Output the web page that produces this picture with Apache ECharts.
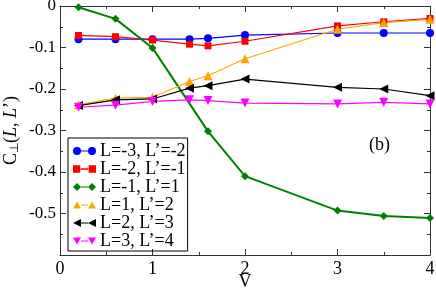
<!DOCTYPE html>
<html>
<head>
<meta charset="utf-8">
<script src="https://cdn.jsdelivr.net/npm/echarts@6/dist/echarts.min.js"></script>
<style>html,body{margin:0;padding:0;background:#fff}#c{width:436px;height:289px}</style>
</head>
<body>
<div id="c"></div>
<script>
// ---- data ----
var vAll   = [0.2, 0.6, 1.0, 1.4, 1.6, 2.0, 3.0, 3.5, 4.0];
var vGreen = [0.2, 0.6, 1.0, 1.6, 2.0, 3.0, 3.5, 4.0];
var seriesNames = ["L=-3, L\u2019=-2", "L=-2, L\u2019=-1", "L=-1, L\u2019=1", "L=1, L\u2019=2", "L=2, L\u2019=3", "L=3, L\u2019=4"];
var cBlue    = [-0.080, -0.080, -0.080, -0.080, -0.078, -0.070, -0.065, -0.065, -0.065];
var cRed     = [-0.071, -0.074, -0.082, -0.092, -0.096, -0.085, -0.048, -0.038, -0.030];
var cGreen   = [-0.003, -0.031, -0.101, -0.302, -0.410, -0.493, -0.506, -0.511];
var cOrange  = [-0.238, -0.222, -0.220, -0.182, -0.168, -0.127, -0.056, -0.040, -0.032];
var cBlack   = [-0.240, -0.226, -0.224, -0.198, -0.192, -0.176, -0.196, -0.200, -0.216];
var cMagenta = [-0.244, -0.239, -0.230, -0.226, -0.228, -0.234, -0.236, -0.232, -0.236];
var xTicks = [0, 1, 2, 3, 4];
var yTicks = [0, -0.1, -0.2, -0.3, -0.4, -0.5];

function pairs(xs, ys) { return xs.map(function (x, i) { return [x, ys[i]]; }); }

var FONT = 'Liberation Serif';
var AX = '#333';

var bar = 'M8,3.4H15V4.6H8Z';
var icons = [
  'path://M0,4A4,4,0,1,1,8,4A4,4,0,1,1,0,4Z' + bar + 'M15,4A4,4,0,1,1,23,4A4,4,0,1,1,15,4Z',
  'path://M0.5,0.5H7.5V7.5H0.5Z' + bar + 'M15.5,0.5H22.5V7.5H15.5Z',
  'path://M4,0L8,4L4,8L0,4Z' + bar + 'M19,0L23,4L19,8L15,4Z',
  'path://M0,7.5L4,0.5L8,7.5Z' + bar + 'M15,7.5L19,0.5L23,7.5Z',
  'path://M0,4L8,0L8,8Z' + bar + 'M15,4L23,0L23,8Z',
  'path://M0,0.5L8,0.5L4,7.5Z' + bar + 'M15,0.5L23,0.5L19,7.5Z'
];

var defs = [
  {d: pairs(vAll, cBlue), color: '#0000ff', symbol: 'circle', size: 8, rot: 0, w: 1.2},
  {d: pairs(vAll, cRed), color: '#ff0000', symbol: 'rect', size: 7, rot: 0, w: 1.2},
  {d: pairs(vGreen, cGreen), color: '#008000', symbol: 'diamond', size: 8, rot: 0, w: 2},
  {d: pairs(vAll, cOrange), color: '#ffa500', symbol: 'triangle', size: 9, rot: 0, w: 1.2},
  {d: pairs(vAll, cBlack), color: '#000000', symbol: 'triangle', size: 9, rot: 90, w: 1.2},
  {d: pairs(vAll, cMagenta), color: '#ff00ff', symbol: 'triangle', size: 9, rot: 180, w: 1.2}
];

var series = defs.map(function (s, i) {
  return {
    name: seriesNames[i], type: 'line', data: s.d,
    symbol: s.symbol, symbolSize: s.size, symbolRotate: s.rot,
    lineStyle: {color: s.color, width: s.w},
    itemStyle: {color: s.color},
    animation: false
  };
});

function fmtY(v) {
  var r = Math.round(v * 10) / 10;
  if (yTicks.indexOf(r) < 0) return '';
  return r === 0 ? '0' : r.toFixed(1);
}
function fmtX(v) { return xTicks.indexOf(v) < 0 ? '' : String(v); }

var axCommon = {
  axisLine: {show: true, onZero: false, lineStyle: {color: AX, width: 1}},
  axisTick: {show: true, inside: true, length: 6, lineStyle: {color: AX}},
  minorTick: {show: true, splitNumber: 2, length: 3, lineStyle: {color: AX}},
  splitLine: {show: false}, minorSplitLine: {show: false}
};
function ax(extra) { return Object.assign({}, JSON.parse(JSON.stringify(axCommon)), extra); }

var chart = echarts.init(document.getElementById('c'), null, {renderer: 'canvas'});
chart.setOption({
  animation: false,
  backgroundColor: '#fff',
  grid: {left: 60, right: 6, top: 6, bottom: 34, containLabel: false, outerBoundsMode: 'none'},
  title: {text: '(b)', left: 364, top: 131, textStyle: {fontFamily: FONT, fontSize: 18, fontWeight: 'normal', color: '#000'}},
  legend: {
    orient: 'vertical', left: 68, top: 138,
    borderColor: '#000', borderWidth: 1, padding: [4, 2, 1, 5],
    itemWidth: 23, itemHeight: 8, itemGap: 0,
    textStyle: {fontFamily: FONT, fontSize: 18, color: '#000', lineHeight: 17.6, padding: [0, 0, 0, -1]},
    data: seriesNames.map(function (n, i) { return {name: n, icon: icons[i]}; }),
    selectedMode: false
  },
  xAxis: [
    ax({type: 'value', min: 0, max: 4, interval: 1, position: 'bottom',
      axisLabel: {show: true, fontFamily: FONT, fontSize: 18, color: '#000', margin: 5, formatter: fmtX},
      name: 'V', nameLocation: 'middle', nameGap: 18, nameMoveOverlap: false,
      nameTextStyle: {fontFamily: FONT, fontSize: 18, color: '#000'}}),
    ax({type: 'value', min: 0, max: 4, interval: 1, position: 'top', axisLabel: {show: false}})
  ],
  yAxis: [
    ax({type: 'value', min: -0.6, max: 0, interval: 0.1, position: 'left',
      axisLabel: {show: true, fontFamily: FONT, fontSize: 17, color: '#000', margin: 4, formatter: fmtY},
      name: '{n|C}{s|\u22a5}{n|(}{i|L}{n|, }{i|L}{n|\u2019)}', nameLocation: 'middle', nameGap: 39, nameRotate: 90, nameMoveOverlap: false,
      nameTextStyle: {fontFamily: FONT, color: '#000', rich: {
        n: {fontFamily: FONT, fontSize: 18, color: '#000'},
        i: {fontFamily: FONT, fontSize: 18, fontStyle: 'italic', color: '#000'},
        s: {fontFamily: FONT, fontSize: 12, color: '#000', verticalAlign: 'bottom', padding: [8, 0, 0, 0]}
      }}}),
    ax({type: 'value', min: -0.6, max: 0, interval: 0.1, position: 'right', axisLabel: {show: false}})
  ],
  series: series
});
</script>
</body>
</html>
